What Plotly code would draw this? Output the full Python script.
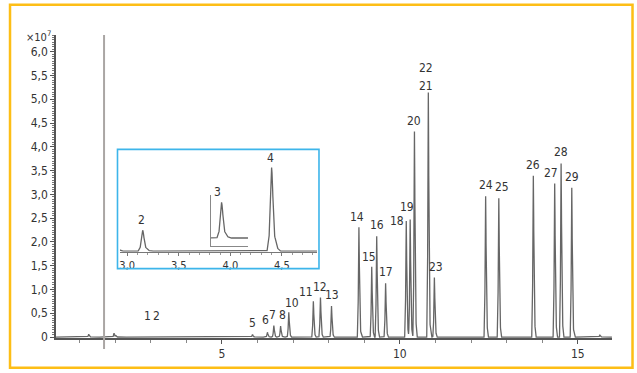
import numpy as np
import plotly.graph_objects as go

# ---- peak table (retention time in min, abundance in 1e7 counts) ----
peak_labels = ["1", "2", "3", "4", "5", "6", "7", "8", "10", "11", "12", "13",
               "14", "15", "16", "17", "18", "19", "20", "21", "22", "23",
               "24", "25", "26", "27", "28", "29"]
peak_times = [2.90, 3.15, 3.92, 4.40, 5.86, 6.28, 6.46, 6.65, 6.88, 7.57, 7.77, 8.08,
              8.85, 9.21, 9.35, 9.60, 10.18, 10.29, 10.41, 10.80, 10.80, 10.97,
              12.41, 12.78, 13.75, 14.35, 14.53, 14.83]
peak_heights = [0.0003, 0.003, 0.0001, 0.012, 0.055, 0.10, 0.24, 0.23, 0.52, 0.75, 0.83, 0.65,
                2.31, 1.48, 2.12, 1.13, 2.44, 2.47, 4.32, 2.60, 2.54, 1.25,
                2.96, 2.92, 3.39, 3.23, 3.65, 3.14]

# unlabelled baseline features
minor_times = [1.26, 1.97, 2.02, 15.62]
minor_heights = [0.06, 0.08, 0.03, 0.04]

# tick labels
y_ticks = [0, 0.5, 1.0, 1.5, 2.0, 2.5, 3.0, 3.5, 4.0, 4.5, 5.0, 5.5, 6.0]
y_tick_text = ["0", "0,5", "1,0", "1,5", "2,0", "2,5", "3,0", "3,5", "4,0", "4,5", "5,0", "5,5", "6,0"]
x_ticks = [5, 10, 15]
x_tick_text = ["5", "10", "15"]
inset_ticks = [3.0, 3.5, 4.0, 4.5]
inset_tick_text = ["3,0", "3,5", "4,0", "4,5"]

solvent_delay = 1.69

# which labels appear in which panel
main_shown = [l for l in peak_labels if l not in ("3", "4")]
inset_shown = ["2", "4"]
sub_shown = ["3"]

# ---- styling ----
FONT = "Liberation Sans Narrow, DejaVu Sans Condensed, Arial Narrow, sans-serif"
TRACE = "#666666"
AXIS = "#555555"
TEXT = "#333333"
ORANGE = "#FDBE16"
BLUE = "#3DB5EA"

# peak profile: (offset from apex in min, fraction of apex height)
profile_dt = [-0.045, -0.025, -0.012, -0.004, 0.0, 0.006, 0.016, 0.03, 0.05, 0.08]
profile_fr = [0.0, 0.15, 0.6, 0.95, 1.0, 0.9, 0.5, 0.18, 0.05, 0.0]

label_shift = {  # label: (xshift, yshift) in px
    "1": (0, 12), "2": (0, 12), "18": (-9, -9), "11": (-7, 0), "10": (3, 0),
    "21": (-2, -2), "22": (-2, 16), "27": (-4, 1), "14": (-2, 1), "15": (-3, 1),
    "25": (3, 2), "19": (-3, 4), "6": (-2, 3), "23": (2, 2),
    "7": (-1, 2), "8": (2, 2),
}

t = np.arange(0.34, 15.96, 0.002)
signal = np.zeros_like(t)
for tp, h in zip(peak_times + minor_times, peak_heights + minor_heights):
    signal += h * np.interp(t - tp, profile_dt, profile_fr, left=0.0, right=0.0)


def apex(tp):
    return float(np.interp(tp, t, signal))


fig = go.Figure()
fig.add_trace(go.Scatter(x=t, y=signal, mode="lines", line=dict(color=TRACE, width=1.3),
                         xaxis="x", yaxis="y", hoverinfo="skip", showlegend=False))
m2 = (t > 2.9) & (t < 4.9)
fig.add_trace(go.Scatter(x=t[m2], y=signal[m2], mode="lines", line=dict(color=TRACE, width=1.3),
                         xaxis="x2", yaxis="y2", hoverinfo="skip", showlegend=False))
m3 = (t > 3.8) & (t < 4.2)
fig.add_trace(go.Scatter(x=t[m3], y=signal[m3], mode="lines", line=dict(color=TRACE, width=1.3),
                         xaxis="x3", yaxis="y3", hoverinfo="skip", showlegend=False))

annotations = []
for lab, tp in zip(peak_labels, peak_times):
    dx, dy = label_shift.get(lab, (0, 2))
    base = dict(text=lab, x=tp, y=apex(tp), xanchor="center", yanchor="bottom",
                showarrow=False, font=dict(family=FONT, size=12, color=TEXT))
    if lab in main_shown:
        annotations.append(dict(base, xref="x", yref="y", xshift=dx, yshift=dy))
    if lab in inset_shown:
        annotations.append(dict(base, xref="x2", yref="y2", xshift=-1, yshift=1))
    if lab in sub_shown:
        annotations.append(dict(base, xref="x3", yref="y3", xshift=-4, yshift=1))

annotations.append(dict(text="×10<sup>7</sup>", xref="paper", yref="paper", x=-0.006, y=0.994,
                        xanchor="right", yanchor="middle", showarrow=False,
                        font=dict(family=FONT, size=11, color=TEXT)))

h3 = peak_heights[peak_labels.index("3")]
h4 = peak_heights[peak_labels.index("4")]

shapes = [
    # solvent delay marker
    dict(type="line", xref="x", yref="paper", x0=solvent_delay, x1=solvent_delay,
         y0=-0.036, y1=1.0, line=dict(color="#aaa6a4", width=2)),
    # inset frame
    dict(type="rect", xref="paper", yref="paper", x0=0.1106, x1=0.4730, y0=0.2288, y1=0.6225,
         line=dict(color=BLUE, width=1.6)),
    # outer frame
    dict(type="rect", xref="paper", yref="paper", x0=-0.0827, x1=1.0369, y0=-0.098, y1=1.0997,
         line=dict(color=ORANGE, width=2.5)),
]

fig.update_layout(
    width=637, height=373,
    margin=dict(l=56, r=25, t=35, b=32),
    paper_bgcolor="white", plot_bgcolor="white",
    showlegend=False,
    font=dict(family=FONT, size=12, color=TEXT),
    xaxis=dict(domain=[0, 1], range=[0.34, 15.96], showline=True, linecolor=AXIS, linewidth=1.5,
               ticks="outside", tickvals=x_ticks, ticktext=x_tick_text, ticklen=4,
               tickcolor=AXIS, tickfont=dict(family=FONT, size=12, color=TEXT),
               minor=dict(dtick=1, tick0=0, ticks="outside", ticklen=3, tickcolor="#888"),
               showgrid=False, zeroline=False, anchor="y"),
    yaxis=dict(domain=[0, 1], range=[-0.02, 6.35], showline=True, linecolor=AXIS, linewidth=1.5,
               ticks="outside", tickvals=y_ticks, ticktext=y_tick_text, ticklen=4,
               tickcolor=AXIS, tickfont=dict(family=FONT, size=12, color=TEXT),
               minor=dict(dtick=0.05, tick0=0, ticks="outside", ticklen=2, tickcolor="#777"),
               showgrid=False, zeroline=False, anchor="x"),
    xaxis2=dict(domain=[0.1151, 0.4694], range=[2.93, 4.84], anchor="y2", showline=True,
                linecolor="#777", linewidth=1.2, ticks="outside", tickvals=inset_ticks,
                ticktext=inset_tick_text, ticklen=3, tickcolor="#777",
                tickfont=dict(family=FONT, size=11, color=TEXT),
                minor=dict(dtick=0.1, tick0=0, ticks="outside", ticklen=2, tickcolor="#999"),
                showgrid=False, zeroline=False),
    yaxis2=dict(domain=[0.2843, 0.6242], range=[-0.0001, 104 / 85 * h4], anchor="x2",
                visible=False),
    xaxis3=dict(domain=[0.2788, 0.3453], range=[3.82, 4.17], anchor="y3", showline=True,
                linecolor="#888", linewidth=1.2, ticks="", showticklabels=False,
                showgrid=False, zeroline=False),
    yaxis3=dict(domain=[0.3039, 0.4706], range=[-8 / 36 * h3, 43 / 36 * h3], anchor="x3",
                showline=True, linecolor="#888", linewidth=1.2, ticks="", showticklabels=False,
                showgrid=False, zeroline=False),
    annotations=annotations,
    shapes=shapes,
)

fig.write_html("out.html")
